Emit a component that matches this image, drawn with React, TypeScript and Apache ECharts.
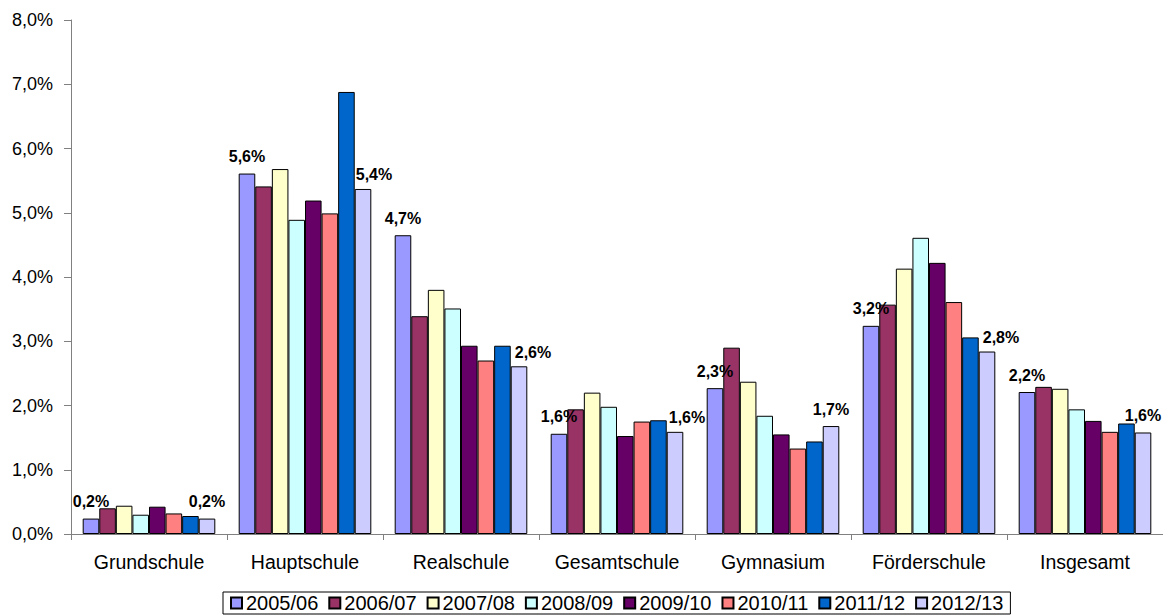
import React, { useEffect, useRef } from "react";
import * as echarts from "echarts";

const categories = ["Grundschule", "Hauptschule", "Realschule", "Gesamtschule", "Gymnasium", "Förderschule", "Insgesamt"];
const seriesNames = ["2005/06", "2006/07", "2007/08", "2008/09", "2009/10", "2010/11", "2011/12", "2012/13"];
const s2005 = [0.24, 5.61, 4.65, 1.56, 2.27, 3.24, 2.21];
const s2006 = [0.40, 5.41, 3.39, 1.94, 2.90, 3.57, 2.29];
const s2007 = [0.44, 5.68, 3.80, 2.20, 2.37, 4.13, 2.26];
const s2008 = [0.30, 4.89, 3.51, 1.98, 1.84, 4.61, 1.94];
const s2009 = [0.425, 5.19, 2.93, 1.525, 1.55, 4.22, 1.76];
const s2010 = [0.32, 4.99, 2.70, 1.75, 1.33, 3.61, 1.59];
const s2011 = [0.28, 6.88, 2.93, 1.77, 1.44, 3.06, 1.72];
const s2012 = [0.24, 5.37, 2.61, 1.59, 1.68, 2.84, 1.58];
const yTicks = [0, 1, 2, 3, 4, 5, 6, 7, 8];

const allSeries = [s2005, s2006, s2007, s2008, s2009, s2010, s2011, s2012];
const colors = ["#9999FF", "#993366", "#FFFFCC", "#CCFFFF", "#660066", "#FF8080", "#0066CC", "#CCCCFF"];

const fmt = (v: number) => v.toFixed(1).replace(".", ",") + "%";

export default function App() {
  const ref = useRef<HTMLDivElement>(null);
  useEffect(() => {
    if (!ref.current) return;
    const chart = echarts.init(ref.current, undefined, { renderer: "svg" });
    const font = "Arial, 'Liberation Sans', sans-serif";
    const lastShift: Record<number, number> = { 1: 11, 2: 14, 3: 12, 5: 14 };
    const labelBase = {
      show: true,
      position: "top",
      distance: 9,
      fontFamily: font,
      fontWeight: "bold",
      fontSize: 16,
      color: "#000",
      formatter: (p: any) => fmt(p.value),
    };
    const series = allSeries.map((arr, si) => {
      const isFirst = si === 0;
      const isLast = si === allSeries.length - 1;
      return {
        name: seriesNames[si],
        type: "bar",
        barGap: "0%",
        barCategoryGap: "15%",
        itemStyle: { color: colors[si], borderColor: "#000", borderWidth: 1 },
        data: arr.map((v, ci) => {
          if (isFirst) return { value: v, label: { ...labelBase } };
          if (isLast) {
            const dx = lastShift[ci] || 0;
            return { value: v, label: { ...labelBase, offset: [dx, dx ? 3 : 0] } };
          }
          return { value: v };
        }),
      };
    });
    chart.setOption({
      animation: false,
      color: colors,
      grid: { left: 71, right: -5, top: 20, bottom: 82 },
      legend: {
        data: seriesNames,
        top: 592,
        left: 223,
        orient: "horizontal",
        itemWidth: 11,
        itemHeight: 11,
        itemGap: 10,
        padding: [1, 7, 1, 7],
        borderColor: "#000",
        borderWidth: 1,
        icon: "rect",
        textStyle: { fontFamily: font, fontSize: 20, color: "#000", padding: [0, 0, 0, -1] },
      },
      xAxis: {
        type: "category",
        data: categories,
        axisLine: { lineStyle: { color: "#808080", width: 1 } },
        axisTick: { show: true, length: 6, interval: 0, lineStyle: { color: "#808080" } },
        axisLabel: { interval: 0, hideOverlap: false, fontFamily: font, fontSize: 19.5, color: "#000", margin: 18 },
        splitLine: { show: false },
      },
      yAxis: {
        type: "value",
        min: yTicks[0],
        max: yTicks[yTicks.length - 1],
        interval: 1,
        axisLine: { show: true, lineStyle: { color: "#808080", width: 1 } },
        axisTick: { show: true, length: 7, lineStyle: { color: "#808080" } },
        axisLabel: { fontFamily: font, fontSize: 18, color: "#000", margin: 18, formatter: (v: number) => fmt(v) },
        splitLine: { show: false },
      },
      series,
    });
    return () => chart.dispose();
  }, []);
  return (
    <div
      ref={ref}
      style={{ position: "fixed", left: 0, top: 0, width: 1163, height: 616, background: "#fff" }}
    />
  );
}
